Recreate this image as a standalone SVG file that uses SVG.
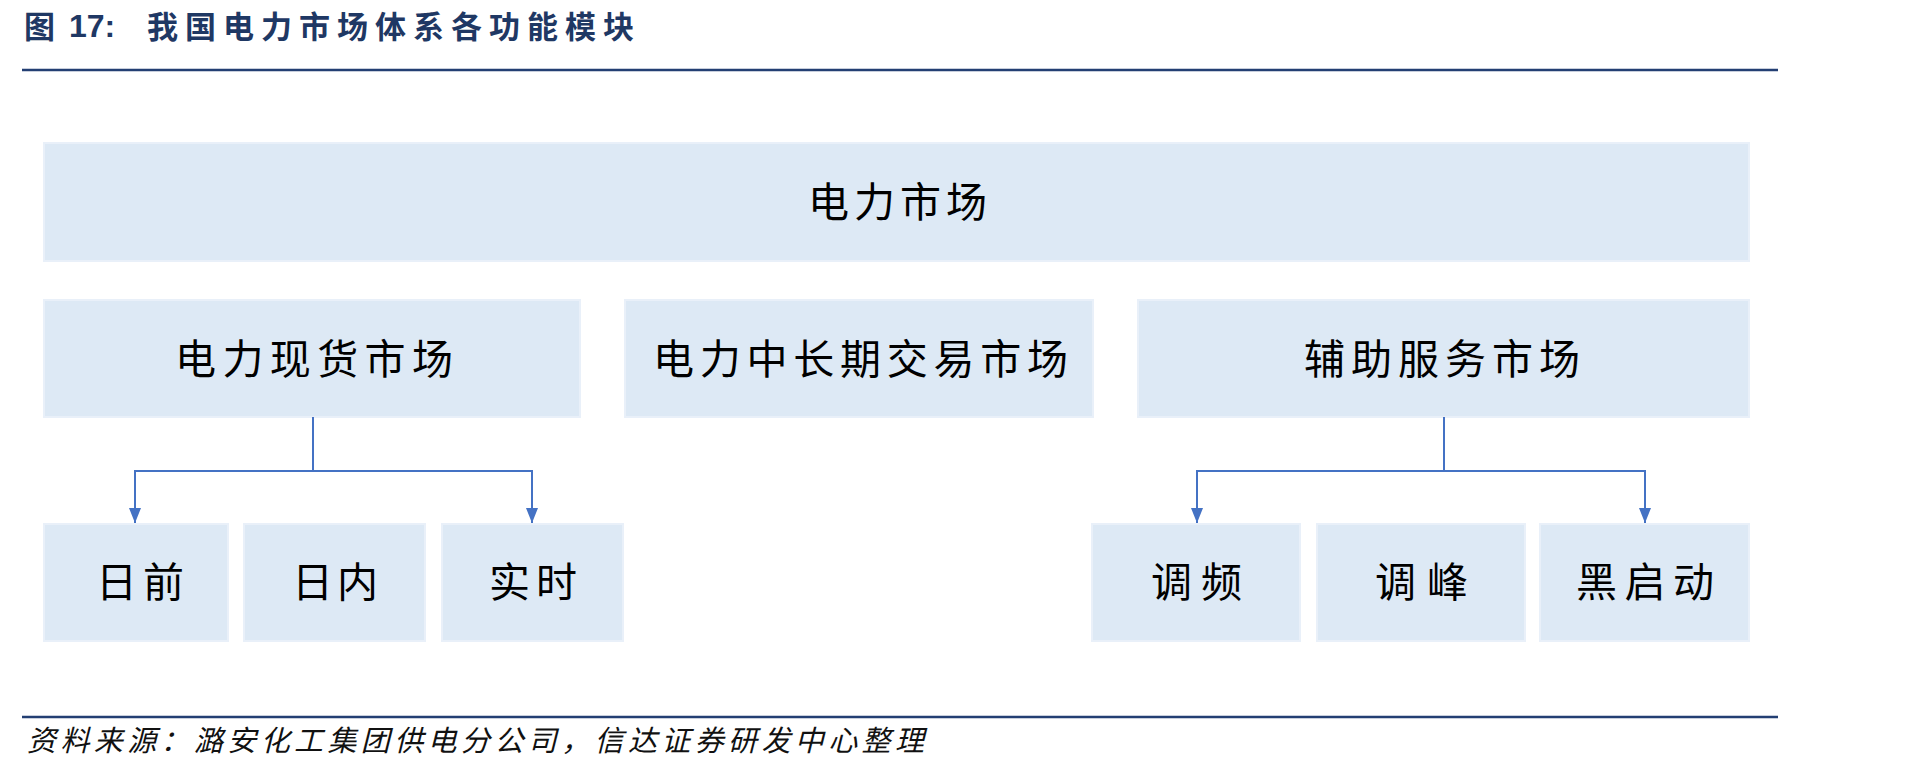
<svg xmlns="http://www.w3.org/2000/svg" width="1919" height="772" viewBox="0 0 1919 772">
<defs>
<style>
.box{fill:#DDE9F5;stroke:#E9F0F9;stroke-width:2}
.lbl{font-family:"Noto Sans CJK SC","Noto Sans",sans-serif;font-size:41px;fill:#000}
.conn{fill:none;stroke:#4472C4;stroke-width:2}
.rule{stroke:#233F73;stroke-width:2.5}
</style>
<marker id="arr" viewBox="0 0 15 12" refX="15" refY="6" markerWidth="15" markerHeight="12" markerUnits="userSpaceOnUse" orient="auto">
<path d="M0,0 L15,6 L0,12 Z" fill="#4472C4"/>
</marker>
</defs>
<rect width="1919" height="772" fill="#fff"/>
<text x="24" y="38" font-family="'Noto Sans CJK SC','Liberation Sans',sans-serif" font-weight="bold" font-size="31" fill="#1F3864">图</text>
<text x="69" y="37" font-family="'Liberation Sans',Arial,sans-serif" font-weight="bold" font-size="32" fill="#1F3864">17:</text>
<text x="147" y="38" font-family="'Noto Sans CJK SC',sans-serif" font-weight="bold" font-size="31" fill="#1F3864" textLength="487" lengthAdjust="spacing">我国电力市场体系各功能模块</text>
<line class="rule" x1="22" y1="70" x2="1778" y2="70"/>

<g id="n-market">
<rect class="box" x="44" y="143" width="1705" height="118"/>
<text class="lbl" x="808" y="217" textLength="179" lengthAdjust="spacing">电力市场</text>
</g>
<g id="n-spot">
<rect class="box" x="44" y="300" width="536" height="117"/>
<text class="lbl" x="175" y="374" textLength="278" lengthAdjust="spacing">电力现货市场</text>
</g>
<g id="n-longterm">
<rect class="box" x="625" y="300" width="468" height="117"/>
<text class="lbl" x="653" y="374" textLength="415" lengthAdjust="spacing">电力中长期交易市场</text>
</g>
<g id="n-aux">
<rect class="box" x="1138" y="300" width="611" height="117"/>
<text class="lbl" x="1304" y="374" textLength="276" lengthAdjust="spacing">辅助服务市场</text>
</g>
<g id="n-dayahead">
<rect class="box" x="44" y="524" width="184" height="117"/>
<text class="lbl" x="96" y="597" textLength="88" lengthAdjust="spacing">日前</text>
</g>
<g id="n-intraday">
<rect class="box" x="244" y="524" width="181" height="117"/>
<text class="lbl" x="292" y="597" textLength="86" lengthAdjust="spacing">日内</text>
</g>
<g id="n-realtime">
<rect class="box" x="442" y="524" width="181" height="117"/>
<text class="lbl" x="489" y="597" textLength="88" lengthAdjust="spacing">实时</text>
</g>
<g id="n-freq">
<rect class="box" x="1092" y="524" width="208" height="117"/>
<text class="lbl" x="1151" y="597" textLength="91" lengthAdjust="spacing">调频</text>
</g>
<g id="n-peak">
<rect class="box" x="1317" y="524" width="208" height="117"/>
<text class="lbl" x="1375" y="597" textLength="93" lengthAdjust="spacing">调峰</text>
</g>
<g id="n-blackstart">
<rect class="box" x="1540" y="524" width="209" height="117"/>
<text class="lbl" x="1576" y="597" textLength="138" lengthAdjust="spacing">黑启动</text>
</g>

<g id="connectors">
<path class="conn" d="M313,417 V471"/>
<path class="conn" d="M313,471 H135 V523" marker-end="url(#arr)"/>
<path class="conn" d="M313,471 H532 V523" marker-end="url(#arr)"/>
<path class="conn" d="M1444,417 V471"/>
<path class="conn" d="M1444,471 H1197 V523" marker-end="url(#arr)"/>
<path class="conn" d="M1444,471 H1645 V523" marker-end="url(#arr)"/>
</g>

<line class="rule" x1="22" y1="717" x2="1778" y2="717"/>
<text x="27" y="751" font-family="'Noto Sans CJK SC',sans-serif" font-style="italic" font-size="29" fill="#111" textLength="897" lengthAdjust="spacing">资料来源：潞安化工集团供电分公司，信达证券研发中心整理</text>
</svg>
